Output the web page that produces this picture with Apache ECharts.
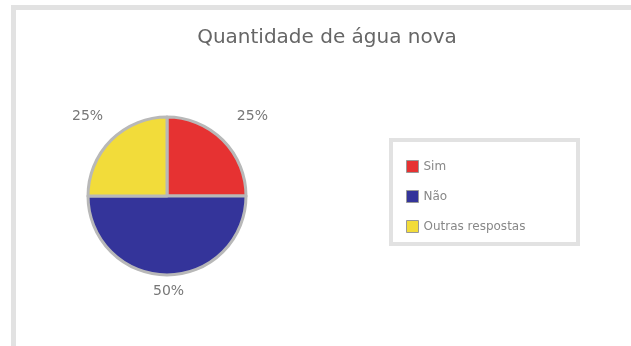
<!DOCTYPE html>
<html>
<head>
<meta charset="utf-8">
<script src="https://cdn.jsdelivr.net/npm/echarts@6/dist/echarts.min.js"></script>
<style>
html,body{margin:0;padding:0;background:#fff;}
#chart{width:631px;height:346px;}
</style>
</head>
<body>
<div id="chart"></div>
<script>
// Resposta sobre a quantidade de água nova
const categories = ['Sim', 'Não', 'Outras respostas'];
const values = [25, 50, 25];
const colors = ['#e63232', '#34349a', '#f2dc3a'];
const chartTitle = 'Quantidade de água nova';

// nudges for the outside percentage labels
const labelOffsets = [[-8, -7], [-19, -8], [14, -7]];

const chart = echarts.init(document.getElementById('chart'));
chart.setOption({
  animation: false,
  backgroundColor: '#ffffff',
  graphic: [{
    type: 'rect',
    shape: { x: 13.5, y: 7.5, width: 640, height: 360 },
    style: { fill: 'none', stroke: '#e2e2e2', lineWidth: 5 },
    silent: true
  }, {
    type: 'rect',
    shape: { x: 391, y: 140, width: 187, height: 104 },
    style: { fill: '#fff', stroke: '#e2e2e2', lineWidth: 4 },
    z: -1,
    silent: true
  }],
  title: {
    text: chartTitle,
    left: 322, top: 23, textAlign: 'center',
    textStyle: { fontFamily: 'DejaVu Sans', fontSize: 20, fontWeight: 'normal', color: '#666' }
  },
  legend: {
    orient: 'vertical',
    left: 401, top: 155,
    itemWidth: 12, itemHeight: 12, itemGap: 17,
    icon: 'rect',
    data: categories,
    itemStyle: { borderColor: '#999', borderWidth: 1 },
    textStyle: { fontFamily: 'DejaVu Sans', fontSize: 12, color: '#888' }
  },
  series: [{
    type: 'pie',
    center: [167, 196],
    radius: 79,
    startAngle: 90,
    clockwise: true,
    data: categories.map((c, i) => ({
      name: c, value: values[i],
      itemStyle: { color: colors[i] },
      label: { offset: labelOffsets[i] }
    })),
    itemStyle: { borderColor: '#b8b8b8', borderWidth: 3 },
    label: {
      show: true,
      formatter: '{d}%',
      fontFamily: 'DejaVu Sans', fontSize: 14, color: '#777'
    },
    labelLine: { show: false, length: 24, length2: 0 }
  }]
});
</script>
</body>
</html>
